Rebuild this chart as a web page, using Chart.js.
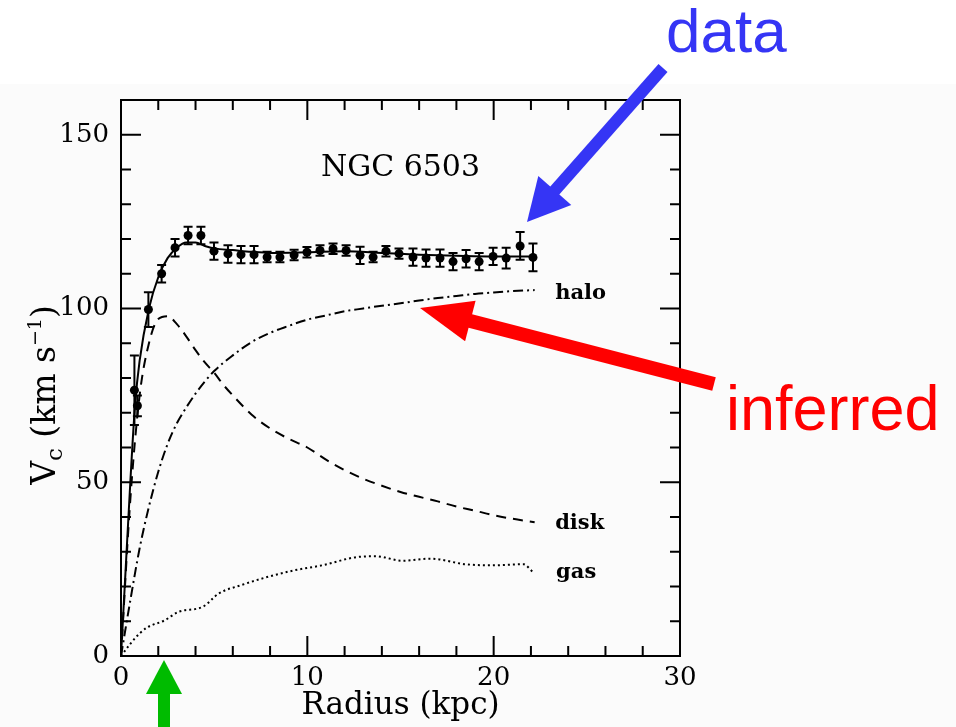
<!DOCTYPE html>
<html>
<head>
<meta charset="utf-8">
<title>NGC 6503 rotation curve</title>
<script src="https://cdn.jsdelivr.net/npm/chart.js@4.4.1/dist/chart.umd.min.js"></script>
<style>
  html, body { margin: 0; padding: 0; background: #fff; }
  #wrap { width: 956px; height: 727px; }
</style>
</head>
<body>
<div id="wrap"><canvas id="rc" width="956" height="727"></canvas></div>
<script>
// observed rotation velocities (kpc, km/s, error)
const obsR   = [0.72, 0.88, 1.47, 2.18, 2.90, 3.60, 4.29, 4.99, 5.74, 6.44, 7.14, 7.84, 8.53, 9.29, 9.98, 10.68,
                11.38, 12.08, 12.83, 13.53, 14.22, 14.92, 15.67, 16.37, 17.12, 17.82, 18.52, 19.22, 19.97, 20.67, 21.42, 22.11];
const obsV   = [76.5, 72.0, 99.7, 110.0, 117.5, 121.0, 121.0, 116.5, 115.7, 115.5, 115.5, 114.8, 114.8, 115.4, 116.2, 116.7,
                117.2, 116.7, 115.3, 114.8, 116.5, 115.8, 114.8, 114.5, 114.5, 113.5, 114.3, 113.5, 115.0, 114.5, 118.0, 114.7];
const obsErr = [10, 3, 5, 2.5, 2.5, 2.5, 2.5, 2.5, 2.5, 2.5, 2.5, 1.5, 1.5, 1.5, 1.5, 1.5,
                1.5, 1.5, 2.5, 1.5, 1.5, 1.5, 2.5, 2.5, 2.5, 2.5, 2.5, 2.5, 2.5, 3, 4, 4];

// model components
const totalR = [0, 0.25, 0.5, 0.75, 1.0, 1.5, 2.0, 2.5, 3.0, 3.5, 4.0, 4.5, 5.0, 6.0, 7.0, 8.0, 10.0, 12.0, 14.0, 16.0, 18.0, 20.0, 22.2];
const totalV = [0, 25, 50, 72, 85, 100, 109, 114.5, 117.5, 119, 119, 118, 117.3, 116.8, 116.3, 116, 116.2, 116.5, 116, 115.5, 115.2, 115, 115];

const diskR = [0, 0.5, 1.0, 1.5, 2.0, 2.5, 3.0, 3.5, 4.0, 4.5, 5.0, 5.5, 6.0, 7.0, 8.0, 9.0, 10.0, 11.0, 12.0, 13.0, 14.0, 15.0, 16.0, 17.0, 18.0, 19.0, 20.0, 21.0, 22.2];
const diskV = [0, 45, 75, 90, 97, 97.8, 95.5, 92, 88, 84.5, 81.5, 78, 75, 69.5, 65.5, 62.5, 60, 56.5, 53.5, 51, 49, 47.2, 45.8, 44.5, 43, 41.8, 40.5, 39.5, 38.5];

const haloR = [0, 0.5, 1.0, 1.5, 2.0, 2.5, 3.0, 3.5, 4.0, 4.5, 5.0, 6.0, 7.0, 8.0, 9.0, 10.0, 11.0, 12.0, 13.0, 14.0, 15.0, 16.0, 17.0, 18.0, 19.0, 20.0, 21.0, 22.2];
const haloV = [0, 16, 31, 43, 53, 61, 67, 71.5, 75.5, 79, 82, 86.5, 90.3, 93, 95, 96.8, 98, 99.2, 100, 100.8, 101.5, 102.3, 103, 103.6, 104.2, 104.6, 105, 105.3];

const gasR = [0, 0.5, 1.0, 1.4, 2.36, 3.08, 4.4, 5.25, 6.45, 7.9, 9.34, 10.8, 12.7, 13.7, 15.1, 16.6, 18.5, 19.9, 21.6, 22.1];
const gasV = [0, 3.5, 6.5, 8.2, 10.3, 12.7, 14.2, 18, 20.4, 22.8, 24.7, 26.1, 28.5, 28.7, 27.4, 28, 26.4, 26.1, 26.4, 24.2];

// axes
const xTickLabels = [0, 10, 20, 30];
const xMinorTicks = [2, 4, 6, 8, 12, 14, 16, 18, 22, 24, 26, 28];
const yTickLabels = [0, 50, 100, 150];
const yMinorTicks = [10, 20, 30, 40, 60, 70, 80, 90, 110, 120, 130, 140];

// curve labels inside the plot (data coords)
const curveLabels = [
  { text: "NGC 6503", x: 15, y: 140.5, size: 30, bold: false, align: "center" },
  { text: "halo", x: 23.3, y: 104.3, size: 21, bold: true, align: "left" },
  { text: "disk", x: 23.3, y: 38.2, size: 21, bold: true, align: "left" },
  { text: "gas", x: 23.35, y: 24.0, size: 21, bold: true, align: "left" }
];

const pts = (xs, ys) => xs.map((x, i) => ({ x: x, y: ys[i] }));
const SERIF = "'DejaVu Serif', serif";

function arrow(ctx, x0, y0, x1, y1, shaft, headLen, headW, color) {
  const a = Math.atan2(y1 - y0, x1 - x0);
  const len = Math.hypot(x1 - x0, y1 - y0);
  ctx.save();
  ctx.translate(x0, y0);
  ctx.rotate(a);
  ctx.fillStyle = color;
  ctx.fillRect(0, -shaft / 2, len - headLen + 1, shaft);
  ctx.beginPath();
  ctx.moveTo(len, 0);
  ctx.lineTo(len - headLen, -headW / 2);
  ctx.lineTo(len - headLen, headW / 2);
  ctx.closePath();
  ctx.fill();
  ctx.restore();
}

const decor = {
  id: "decor",
  beforeDraw(chart) {
    const ctx = chart.ctx;
    ctx.save();
    ctx.fillStyle = "#ffffff";
    ctx.fillRect(0, 0, chart.width, chart.height);
    ctx.fillStyle = "#fbfbfb";
    ctx.fillRect(0, 84, chart.width, chart.height - 84);
    ctx.restore();
  },
  afterDatasetsDraw(chart) {
    const ctx = chart.ctx;
    const xs = chart.scales.x, ys = chart.scales.y;
    // error bars
    ctx.save();
    ctx.strokeStyle = "#000";
    ctx.lineWidth = 2;
    obsR.forEach((r, i) => {
      const px = xs.getPixelForValue(r);
      const top = ys.getPixelForValue(obsV[i] + obsErr[i]);
      const bot = ys.getPixelForValue(obsV[i] - obsErr[i]);
      ctx.beginPath();
      ctx.moveTo(px, top); ctx.lineTo(px, bot);
      ctx.moveTo(px - 4.5, top); ctx.lineTo(px + 4.5, top);
      ctx.moveTo(px - 4.5, bot); ctx.lineTo(px + 4.5, bot);
      ctx.stroke();
    });
    ctx.restore();
  },
  afterDraw(chart) {
    const ctx = chart.ctx;
    const a = chart.chartArea;
    const xs = chart.scales.x, ys = chart.scales.y;
    ctx.save();
    // frame
    ctx.strokeStyle = "#000";
    ctx.lineWidth = 2;
    ctx.strokeRect(a.left, a.top, a.right - a.left, a.bottom - a.top);
    // inward ticks on all four sides
    ctx.beginPath();
    const xt = (v, len) => {
      const p = xs.getPixelForValue(v);
      ctx.moveTo(p, a.bottom); ctx.lineTo(p, a.bottom - len);
      ctx.moveTo(p, a.top); ctx.lineTo(p, a.top + len);
    };
    const yt = (v, len) => {
      const p = ys.getPixelForValue(v);
      ctx.moveTo(a.left, p); ctx.lineTo(a.left + len, p);
      ctx.moveTo(a.right, p); ctx.lineTo(a.right - len, p);
    };
    xTickLabels.forEach(v => xt(v, 20));
    xMinorTicks.forEach(v => xt(v, 10));
    yTickLabels.forEach(v => yt(v, 20));
    yMinorTicks.forEach(v => yt(v, 10));
    ctx.stroke();

    // curve labels
    ctx.fillStyle = "#000";
    ctx.textBaseline = "middle";
    curveLabels.forEach(l => {
      ctx.font = (l.bold ? "bold " : "") + l.size + "px " + SERIF;
      ctx.textAlign = l.align;
      ctx.fillText(l.text, xs.getPixelForValue(l.x), ys.getPixelForValue(l.y));
    });

    // y-axis title with subscript and superscript
    const parts = [
      { t: "V", size: 33, dy: 0 },
      { t: "c", size: 23, dy: 7 },
      { t: " (km s", size: 33, dy: 0 },
      { t: "\u22121", size: 19, dy: -14 },
      { t: ")", size: 33, dy: 0 }
    ];
    ctx.translate(43, 395);
    ctx.rotate(-Math.PI / 2);
    ctx.textAlign = "left";
    ctx.textBaseline = "alphabetic";
    let total = 0;
    parts.forEach(p => { ctx.font = p.size + "px " + SERIF; p.w = ctx.measureText(p.t).width; total += p.w; });
    let cx = -total / 2;
    parts.forEach(p => {
      ctx.font = p.size + "px " + SERIF;
      ctx.fillText(p.t, cx, 12 + p.dy);
      cx += p.w;
    });
    ctx.restore();

    // slide annotations
    ctx.save();
    arrow(ctx, 663, 68, 527, 222, 12, 42, 44, "#3535f5");
    arrow(ctx, 714, 384, 420, 308, 14, 52, 42, "#ff0000");
    arrow(ctx, 164, 727, 164, 660, 12, 34, 36, "#00bb00");
    ctx.textAlign = "left";
    ctx.textBaseline = "alphabetic";
    ctx.font = "62px 'Liberation Sans', Arial, sans-serif";
    ctx.fillStyle = "#3535f5";
    ctx.fillText("data", 666, 52);
    ctx.font = "63px 'Liberation Sans', Arial, sans-serif";
    ctx.fillStyle = "#ff0000";
    ctx.fillText("inferred", 726, 430);
    ctx.restore();
  }
};

new Chart(document.getElementById("rc"), {
  type: "scatter",
  data: {
    datasets: [
      {
        label: "data",
        data: pts(obsR, obsV),
        showLine: false,
        pointRadius: 4.5,
        pointBackgroundColor: "#000",
        pointBorderWidth: 0
      },
      {
        label: "total",
        data: pts(totalR, totalV),
        showLine: true,
        borderColor: "#000",
        borderWidth: 2,
        pointRadius: 0,
        cubicInterpolationMode: "monotone"
      },
      {
        label: "disk",
        data: pts(diskR, diskV),
        showLine: true,
        borderColor: "#000",
        borderWidth: 2,
        borderDash: [10, 7],
        pointRadius: 0,
        cubicInterpolationMode: "monotone"
      },
      {
        label: "halo",
        data: pts(haloR, haloV),
        showLine: true,
        borderColor: "#000",
        borderWidth: 2,
        borderDash: [10, 4, 2, 4],
        pointRadius: 0,
        cubicInterpolationMode: "monotone"
      },
      {
        label: "gas",
        data: pts(gasR, gasV),
        showLine: true,
        borderColor: "#000",
        borderWidth: 2,
        borderDash: [2, 3],
        pointRadius: 0,
        cubicInterpolationMode: "monotone"
      }
    ]
  },
  options: {
    responsive: false,
    animation: false,
    devicePixelRatio: 1,
    layout: { padding: { left: 0, top: 100, right: 276, bottom: 0 } },
    plugins: {
      legend: { display: false },
      tooltip: { enabled: false }
    },
    scales: {
      x: {
        type: "linear",
        min: 0,
        max: 30,
        afterBuildTicks: s => { s.ticks = xTickLabels.map(v => ({ value: v })); },
        afterFit: s => { s.height = 71; },
        grid: { display: false, drawTicks: false },
        border: { display: false },
        ticks: { color: "#000", padding: 7, maxRotation: 0, autoSkip: false, font: { family: SERIF, size: 26 } },
        title: {
          display: true,
          text: "Radius (kpc)",
          color: "#000",
          font: { family: SERIF, size: 31 },
          padding: { top: 0, bottom: 2 }
        }
      },
      y: {
        type: "linear",
        min: 0,
        max: 160,
        afterBuildTicks: s => { s.ticks = yTickLabels.map(v => ({ value: v })); },
        afterFit: s => { s.width = 121; },
        grid: { display: false, drawTicks: false },
        border: { display: false },
        ticks: { color: "#000", padding: 12, font: { family: SERIF, size: 26 } }
      }
    }
  },
  plugins: [decor]
});
</script>
</body>
</html>
